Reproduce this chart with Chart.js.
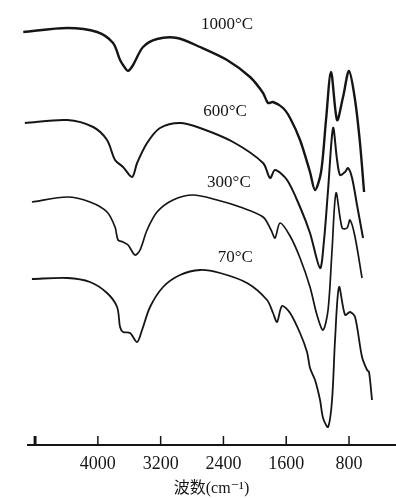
<!DOCTYPE html>
<html>
<head>
<meta charset="utf-8">
<script src="https://cdn.jsdelivr.net/npm/chart.js@4.4.1/dist/chart.umd.min.js"></script>
<style>
  html, body { margin: 0; padding: 0; background: #fff; }
  #wrap { width: 396px; height: 498px; position: relative; }
</style>
</head>
<body>
<div id="wrap"><canvas id="ir"></canvas></div>
<script>
// wavenumber (cm-1) and transmittance (a.u., curves offset)
const wn1000 = [4950, 4390, 4010, 3806, 3717, 3653, 3615, 3551, 3424, 3246, 2991, 2698, 2354, 2061, 1895, 1832, 1768, 1640, 1551, 1424, 1297, 1233, 1156, 1093, 1029, 952, 876, 800, 723, 660, 608];
const t1000  = [418, 422, 418, 407, 390, 382, 379, 385, 403, 411, 412, 403, 390, 373, 357, 347, 348, 342, 332, 310, 278, 260, 278, 330, 378, 330, 353, 379, 350, 307, 258];

const wn600 = [4930, 4390, 4060, 3883, 3781, 3679, 3564, 3500, 3373, 3208, 2953, 2698, 2277, 1895, 1806, 1742, 1589, 1424, 1297, 1169, 1118, 1067, 1003, 952, 914, 850, 812, 761, 698, 621];
const t600  = [327, 330, 323, 310, 290, 283, 273, 287, 307, 322, 327, 322, 308, 287, 272, 280, 270, 243, 217, 182, 210, 260, 322, 290, 275, 278, 282, 272, 245, 212];

const wn300 = [4840, 4390, 4100, 3883, 3781, 3743, 3679, 3615, 3526, 3462, 3373, 3246, 3042, 2787, 2481, 2188, 1895, 1793, 1742, 1679, 1551, 1424, 1297, 1208, 1131, 1067, 1016, 965, 888, 825, 787, 723, 634];
const t300  = [248, 253, 248, 238, 223, 210, 208, 205, 195, 200, 220, 238, 250, 255, 250, 243, 233, 220, 212, 227, 214, 192, 163, 135, 120, 140, 200, 257, 222, 222, 230, 213, 172];

const wn70 = [4840, 4390, 4100, 3883, 3755, 3717, 3679, 3590, 3500, 3437, 3335, 3169, 2953, 2698, 2443, 2099, 1844, 1768, 1717, 1653, 1551, 1424, 1335, 1297, 1233, 1169, 1131, 1067, 1016, 978, 927, 850, 787, 723, 634, 570, 545, 507];
const t70  = [171, 172, 168, 157, 143, 123, 118, 117, 108, 120, 143, 163, 175, 180, 177, 167, 150, 137, 128, 144, 137, 117, 98, 82, 70, 50, 32, 23, 50, 110, 163, 135, 138, 133, 93, 80, 78, 50];

const seriesNames = ['1000°C', '600°C', '300°C', '70°C'];
const labelWn = [2354, 2380, 2330, 2250];
const labelT = [425, 338, 267, 192];

const tickValues = [4800, 4000, 3200, 2400, 1600, 800];

const ink = '#151515';
const serif = '"Liberation Serif", "DejaVu Serif", serif';

const toPoints = (xs, ys) => xs.map((x, i) => ({x: x, y: ys[i]}));

const makeSet = (label, xs, ys, width) => ({
    label: label,
    data: toPoints(xs, ys),
    borderColor: ink,
    borderWidth: width,
    pointRadius: 0,
    fill: false,
    tension: 0.3,
    clip: false,
});

const seriesLabels = {
    id: 'seriesLabels',
    afterDatasetsDraw(c) {
        const {ctx, scales: {x, y}} = c;
        ctx.save();
        ctx.fillStyle = ink;
        ctx.font = '17px ' + serif;
        ctx.textAlign = 'center';
        ctx.textBaseline = 'middle';
        seriesNames.forEach((name, i) => {
            ctx.fillText(name, x.getPixelForValue(labelWn[i]), y.getPixelForValue(labelT[i]));
        });
        ctx.restore();
    },
};

// tick marks stand up from the axis line
const upTicks = {
    id: 'upTicks',
    afterDraw(c) {
        const {ctx, scales: {x}} = c;
        const base = c.chartArea.bottom;
        ctx.save();
        ctx.strokeStyle = ink;
        tickValues.forEach((v, i) => {
            const px = x.getPixelForValue(v);
            ctx.lineWidth = i === 0 ? 3 : 1.5;
            ctx.beginPath();
            ctx.moveTo(px, base);
            ctx.lineTo(px, base - 9);
            ctx.stroke();
        });
        ctx.restore();
    },
};

new Chart(document.getElementById('ir'), {
    type: 'line',
    data: {
        datasets: [
            makeSet(seriesNames[0], wn1000, t1000, 2.4),
            makeSet(seriesNames[1], wn600, t600, 2),
            makeSet(seriesNames[2], wn300, t300, 1.7),
            makeSet(seriesNames[3], wn70, t70, 1.8),
        ],
    },
    options: {
        responsive: true,
        maintainAspectRatio: false,
        animation: false,
        layout: {
            padding: {left: 28, right: 1, top: 0, bottom: 0},
        },
        scales: {
            x: {
                type: 'linear',
                reverse: true,
                min: 214,
                max: 4890,
                afterBuildTicks: (scale) => {
                    scale.ticks = tickValues.map((v) => ({value: v}));
                },
                afterFit: (scale) => {
                    scale.height = 53;
                },
                border: {
                    display: true,
                    color: ink,
                    width: 2,
                },
                grid: {
                    display: false,
                },
                ticks: {
                    padding: 0,
                    maxRotation: 0,
                    autoSkip: false,
                    color: ink,
                    font: {family: serif, size: 18},
                    callback: (value) => (value === 4800 ? '' : value),
                },
                title: {
                    display: true,
                    text: '波数(cm⁻¹)',
                    color: ink,
                    font: {family: serif + ', "Noto Sans CJK SC"', size: 16},
                    padding: {top: 0, bottom: 0},
                },
            },
            y: {
                display: false,
                min: 5,
                max: 450,
            },
        },
        plugins: {
            legend: {display: false},
            tooltip: {enabled: false},
        },
    },
    plugins: [seriesLabels, upTicks],
});
</script>
</body>
</html>
